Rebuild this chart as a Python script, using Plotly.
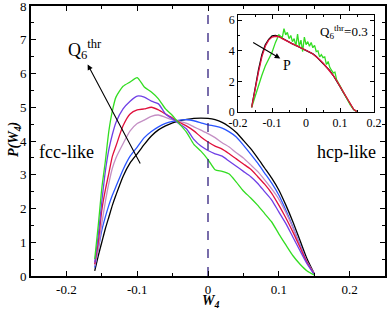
import plotly.graph_objects as go

# ---- main panel data ----
w4 = [-0.16, -0.155, -0.15, -0.145, -0.14, -0.135, -0.13, -0.12, -0.11, -0.10,
      -0.09, -0.08, -0.07, -0.06, -0.05, -0.04, -0.03, -0.02, -0.01, 0.0,
      0.01, 0.02, 0.03, 0.04, 0.05, 0.06, 0.07, 0.08, 0.09, 0.10,
      0.11, 0.12, 0.13, 0.14, 0.15]

p_black = [0.15, 0.6, 1.0, 1.4, 1.75, 2.1, 2.4, 2.95, 3.35, 3.62,
           3.9, 4.15, 4.33, 4.45, 4.54, 4.6, 4.64, 4.67, 4.68, 4.67,
           4.63, 4.55, 4.42, 4.25, 4.02, 3.78, 3.5, 3.2, 2.9, 2.55,
           2.1, 1.6, 1.05, 0.5, 0.07]
p_blue = [0.25, 0.8, 1.35, 1.75, 2.1, 2.4, 2.65, 3.15, 3.55, 3.82,
          4.1, 4.28, 4.42, 4.52, 4.58, 4.62, 4.63, 4.6, 4.54, 4.48,
          4.44, 4.38, 4.27, 4.12, 3.88, 3.62, 3.35, 3.05, 2.75, 2.4,
          1.95, 1.45, 0.92, 0.42, 0.06]
p_plum = [0.3, 0.8, 1.55, 2.2, 2.75, 3.2, 3.5, 3.92, 4.3, 4.52,
          4.62, 4.73, 4.77, 4.7, 4.63, 4.58, 4.52, 4.42, 4.32, 4.22,
          4.1, 3.95, 3.82, 3.65, 3.5, 3.3, 3.1, 2.85, 2.58, 2.28,
          1.88, 1.42, 0.9, 0.42, 0.07]
p_red = [0.35, 1.0, 1.95, 2.55, 3.05, 3.55, 3.85, 4.45, 4.8, 4.92,
         4.95, 5.0, 4.92, 4.8, 4.68, 4.55, 4.44, 4.3, 4.12, 3.97,
         3.85, 3.76, 3.62, 3.47, 3.32, 3.17, 2.95, 2.72, 2.45, 2.1,
         1.72, 1.3, 0.85, 0.4, 0.06]
p_purple = [0.4, 1.2, 2.2, 3.1, 3.75, 4.2, 4.55, 4.95, 5.18, 5.33,
            5.3, 5.18, 5.1, 4.8, 4.65, 4.5, 4.35, 4.05, 3.85, 3.72,
            3.62, 3.55, 3.4, 3.25, 3.1, 2.95, 2.75, 2.5, 2.25, 1.9,
            1.55, 1.15, 0.75, 0.36, 0.05]
p_green = [0.5, 1.5, 2.6, 3.4, 4.3, 4.9, 5.3, 5.62, 5.75, 5.88,
           5.6, 5.45, 5.25, 4.95, 4.75, 4.5, 4.25, 3.9, 3.7, 3.45,
           3.15, 3.1, 3.02, 2.78, 2.52, 2.32, 2.1, 1.85, 1.6, 1.25,
           0.92, 0.6, 0.35, 0.15, 0.03]

# ---- inset data ----
w4_in = [-0.16, -0.15, -0.14, -0.13, -0.12, -0.11, -0.10, -0.09, -0.08, -0.07,
         -0.06, -0.05, -0.04, -0.03, -0.02, -0.01, 0.0, 0.01, 0.02, 0.03,
         0.04, 0.05, 0.06, 0.07, 0.08, 0.09, 0.10, 0.11, 0.12, 0.13,
         0.14, 0.15]
pin_black = [0.3, 1.6, 2.75, 3.75, 4.4, 4.75, 4.97, 5.0, 4.95, 4.82,
             4.68, 4.55, 4.45, 4.35, 4.25, 4.15, 4.05, 3.92, 3.8, 3.62,
             3.4, 3.2, 2.95, 2.7, 2.38, 2.05, 1.65, 1.25, 0.85, 0.45,
             0.15, 0.0]
pin_red = [0.3, 1.5, 2.6, 3.6, 4.3, 4.7, 4.9, 4.95, 4.92, 4.8,
           4.67, 4.55, 4.45, 4.35, 4.25, 4.14, 4.04, 3.92, 3.79, 3.62,
           3.42, 3.2, 2.95, 2.68, 2.38, 2.05, 1.66, 1.26, 0.86, 0.46,
           0.16, 0.0]
w4_in_g = [-0.16, -0.15, -0.14, -0.13, -0.12, -0.11, -0.10, -0.09, -0.08, -0.07,
           -0.065, -0.06, -0.055, -0.05, -0.045, -0.04, -0.035, -0.03, -0.025, -0.02,
           -0.015, -0.01, -0.005, 0.0, 0.005, 0.01, 0.015, 0.02, 0.025, 0.03,
           0.035, 0.04, 0.045, 0.05, 0.055, 0.06, 0.065, 0.07, 0.08, 0.085,
           0.09, 0.10, 0.11, 0.12, 0.13, 0.14, 0.15]
pin_green = [0.3, 1.0, 1.8, 2.4, 3.0, 3.5, 3.9, 4.55, 5.05, 4.85,
             5.45, 5.05, 5.2, 4.8, 5.0, 4.6, 4.8, 4.3, 5.1, 4.3,
             4.7, 3.95, 4.9, 4.4, 4.6, 4.3, 4.55, 4.2, 4.35, 3.95,
             4.0, 3.6, 3.75, 3.55, 3.6, 3.1, 3.3, 2.9, 2.55, 2.6,
             2.1, 1.7, 1.25, 0.8, 0.45, 0.15, 0.0]

main_series = [
    ("black", p_black, "#000000"),
    ("blue", p_blue, "#2a55ff"),
    ("plum", p_plum, "#c48fc4"),
    ("red", p_red, "#e0103c"),
    ("purple", p_purple, "#6f3fe6"),
    ("green", p_green, "#33dd22"),
]

font_family = "Liberation Serif"
fig = go.Figure()

for name, ys, col in main_series:
    fig.add_trace(go.Scatter(x=w4, y=ys, mode="lines", name=name,
                             line=dict(color=col, width=1.3, shape="spline", smoothing=0.6),
                             xaxis="x", yaxis="y", showlegend=False))

# dashed vertical line at W4 = 0
fig.add_trace(go.Scatter(x=[0, 0], y=[0, 8], mode="lines",
                         line=dict(color="#32207e", width=1.3, dash="dash"),
                         xaxis="x", yaxis="y", showlegend=False))

for name, xs, ys, col in [("black", w4_in, pin_black, "#000000"),
                          ("green", w4_in_g, pin_green, "#33dd22"),
                          ("red", w4_in, pin_red, "#e0103c")]:
    fig.add_trace(go.Scatter(x=xs, y=ys, mode="lines", name=name,
                             line=dict(color=col, width=1.3),
                             xaxis="x2", yaxis="y2", showlegend=False))

axis_common = dict(showline=True, linecolor="black", mirror="ticks", automargin=False,
                   ticks="inside", tickcolor="black", showgrid=False, ticklabeloverflow="allow",
                   zeroline=False, tickfont=dict(family=font_family, size=13, color="black"))
inset_font = dict(family=font_family, size=12, color="black")

fig.update_layout(
    template="none",
    width=392, height=310,
    margin=dict(l=31, r=7, t=6, b=34, autoexpand=False),
    paper_bgcolor="white", plot_bgcolor="white",
    xaxis=dict(range=[-0.25, 0.25], domain=[0, 1], tickvals=[-0.2, -0.1, 0, 0.1, 0.2],
               ticktext=["-0.2", "-0.1", "0", "0.1", "0.2"], linewidth=2, ticklen=5,
               minor=dict(dtick=0.05, tick0=0, ticks="inside", ticklen=3, tickcolor="black"),
               **axis_common),
    yaxis=dict(range=[0, 8], domain=[0, 1], dtick=1, linewidth=2, ticklen=5,
               minor=dict(dtick=0.5, ticks="inside", ticklen=3, tickcolor="black"),
               **axis_common),
    xaxis2=dict(range=[-0.2, 0.2], domain=[0.585, 0.969], anchor="y2",
                tickvals=[-0.2, -0.1, 0, 0.1, 0.2], ticktext=["-0.2", "-0.1", "0", "0.1", "0.2"],
                linewidth=1, ticklen=4,
                minor=dict(dtick=0.05, tick0=0, ticks="inside", ticklen=2, tickcolor="black"),
                **{**axis_common, "tickfont": inset_font}),
    yaxis2=dict(range=[0, 6.35], domain=[0.608, 0.967], anchor="x2", dtick=2,
                linewidth=1, ticklen=4,
                minor=dict(dtick=1, ticks="inside", ticklen=2, tickcolor="black"),
                **{**axis_common, "tickfont": inset_font}),
)

ann = []
# main arrow (Q6thr direction)
ann.append(dict(x=-0.17, y=6.27, ax=-0.0946, ay=3.29, xref="x", yref="y", axref="x", ayref="y",
                showarrow=True, arrowhead=2, arrowsize=1, arrowwidth=1.1, arrowcolor="black", text=""))
ann.append(dict(x=-0.2, y=6.72, xref="x", yref="y", xanchor="left", yanchor="middle",
                showarrow=False, text="Q<sub>6</sub><sup>thr</sup>",
                font=dict(family=font_family, size=18, color="black")))
ann.append(dict(x=-0.2, y=3.68, xref="x", yref="y", xanchor="center", yanchor="middle",
                showarrow=False, text="fcc-like",
                font=dict(family=font_family, size=18, color="black")))
ann.append(dict(x=0.195, y=3.66, xref="x", yref="y", xanchor="center", yanchor="middle",
                showarrow=False, text="hcp-like",
                font=dict(family=font_family, size=18, color="black")))
# inset arrow and labels
ann.append(dict(x=-0.076, y=3.5, ax=-0.16, ay=4.6, xref="x2", yref="y2", axref="x2", ayref="y2",
                showarrow=True, arrowhead=2, arrowsize=1, arrowwidth=1.1, arrowcolor="black", text=""))
ann.append(dict(x=-0.057, y=3.05, xref="x2", yref="y2", xanchor="center", yanchor="middle",
                showarrow=False, text="P",
                font=dict(family=font_family, size=14, color="black")))
ann.append(dict(x=0.035, y=5.24, xref="x2", yref="y2", xanchor="left", yanchor="middle",
                showarrow=False, text="Q<sub>6</sub><sup>thr</sup>=0.3",
                font=dict(family=font_family, size=13, color="black")))
# axis titles
ann.append(dict(x=-0.045, y=0.504, xref="paper", yref="paper", xanchor="center", yanchor="middle",
                showarrow=False, textangle=-90,
                text="<b><i>P(W<sub>4</sub>)</i></b>",
                font=dict(family=font_family, size=14, color="black")))
ann.append(dict(x=0.508, y=-0.096, xref="paper", yref="paper", xanchor="center", yanchor="middle",
                showarrow=False, text="<b><i>W<sub>4</sub></i></b>",
                font=dict(family=font_family, size=14, color="black")))
fig.update_layout(annotations=ann)

fig.write_html("out.html", config={"displayModeBar": False},
               post_script="document.body.style.margin='0px';")
